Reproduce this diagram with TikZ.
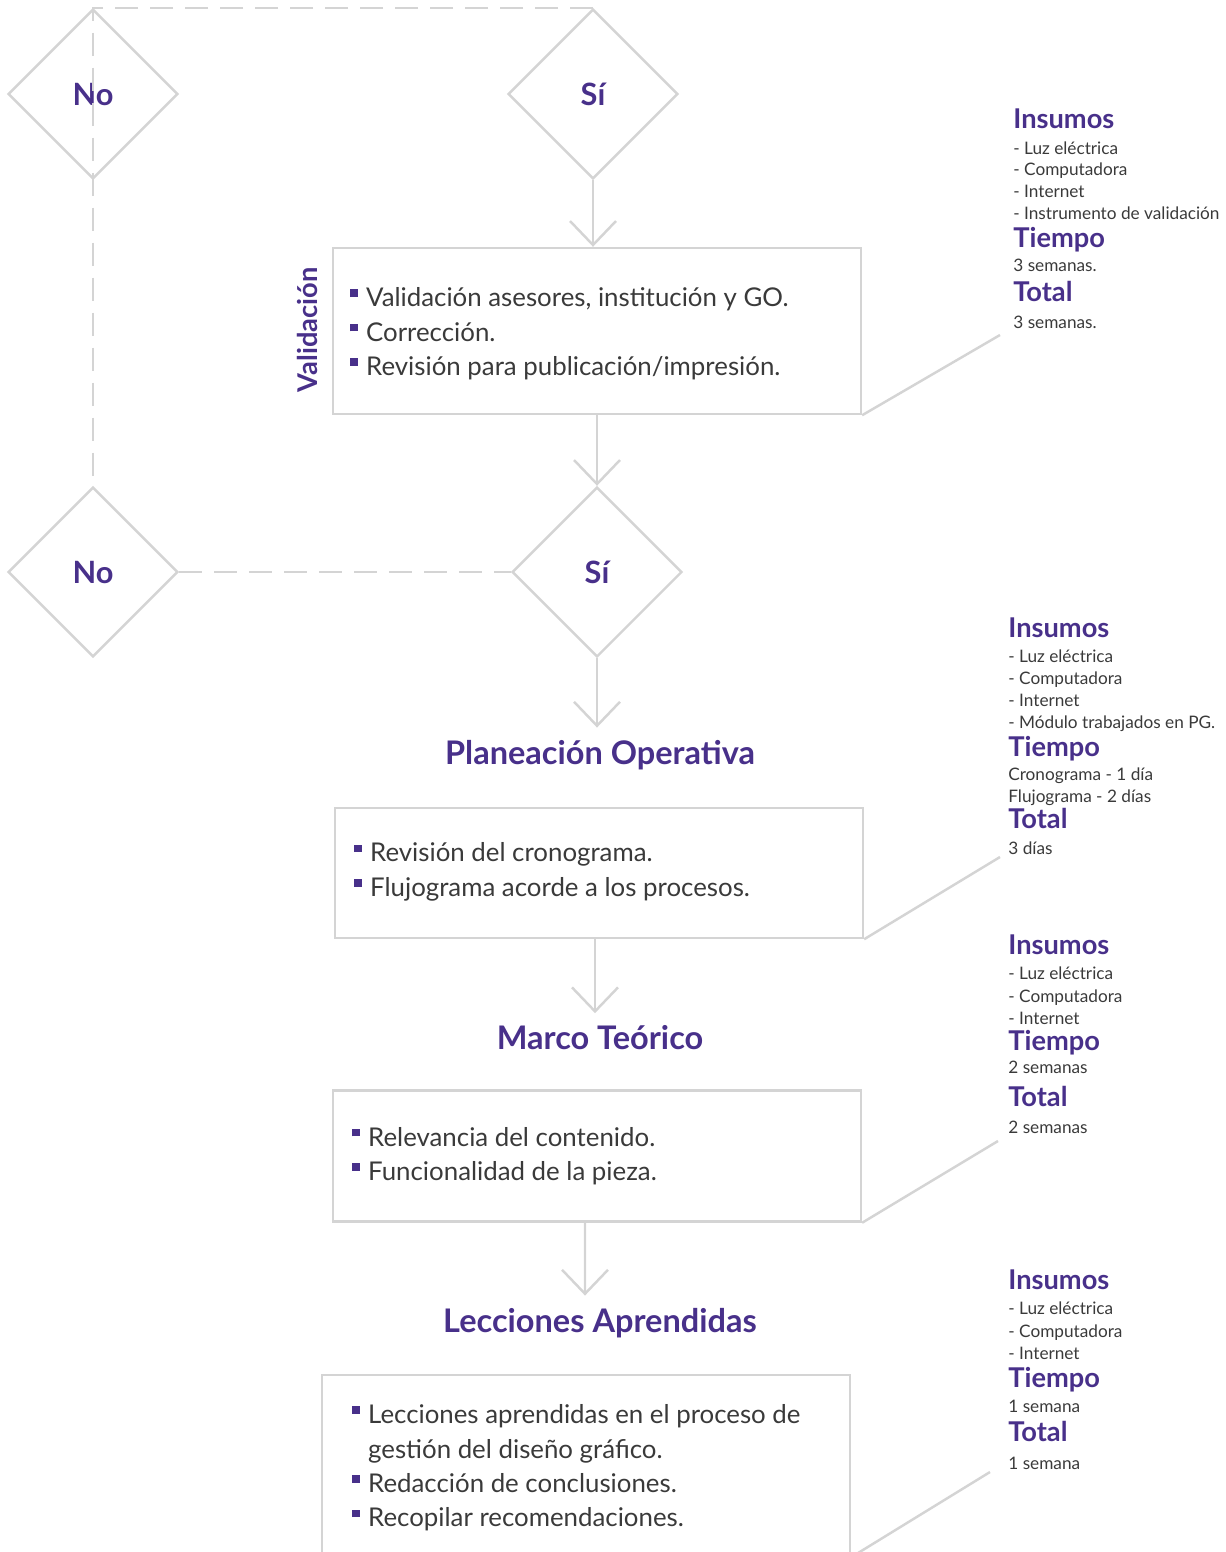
\documentclass[tikz,border=0pt]{standalone}
\usepackage{fontspec}
\setmainfont{Lato}
\usetikzlibrary{shapes.geometric,arrows.meta}
\definecolor{linegray}{HTML}{D4D4D4}
\definecolor{accent}{HTML}{48308A}
\definecolor{bodytext}{HTML}{3A3A3A}
\tikzset{>={Straight Barb[length=4.8mm,width=9.2mm]}}
\newcommand{\bul}{\makebox[9pt][l]{\textcolor{accent}{\rule[0.38em]{4.3pt}{4.3pt}}}}
\newcommand{\nobul}{\makebox[9pt]{}}

\begin{document}
\begin{tikzpicture}[x=0.02cm,y=-0.02cm,
    flow/.style={draw=linegray,line width=1.4pt},
    loopline/.style={flow,dash pattern=on 0.46cm off 0.24cm},
    decision/.style={diamond,draw=linegray,line width=1.4pt,minimum width=3.4cm,minimum height=3.4cm,inner sep=0pt,text=accent,font=\fontsize{17.5}{20}\selectfont\bfseries},
    taskbox/.style={draw=linegray,line width=1.4pt,minimum width=10.56cm,inner sep=0pt},
    tasktext/.style={anchor=west,align=left,text=bodytext,font=\fontsize{14.7}{19.6}\selectfont,inner sep=0pt},
    stage/.style={text=accent,font=\fontsize{18.5}{21}\selectfont\bfseries,inner xsep=0pt,inner ysep=7pt},
    panelhead/.style={anchor=west,text=accent,font=\fontsize{15.5}{17}\selectfont\bfseries,inner sep=0pt,text height=0.72em,text depth=0em,yshift=-0.06cm},
    panelitem/.style={anchor=west,text=bodytext,font=\fontsize{9.8}{11}\selectfont,inner sep=0pt,text height=0.72em,text depth=0em}]
    \clip (0,0) rectangle (1226,1552);
    % decisiones
    \node[decision] (no1) at (93,94) {No};
    \node[decision] (si1) at (593,94) {Sí};
    \node[decision] (no2) at (93,572) {No};
    \node[decision] (si2) at (597,572) {Sí};
    % etapas
    \node[taskbox,minimum height=3.32cm] (val) at (597,331) {};
    \node[rotate=90,text=accent,font=\fontsize{15.5}{17}\selectfont\bfseries] (valtitle) at (307,330) {Validación};
    \node[tasktext] (valtxt) at (350,334) {\bul Validación asesores, institución y GO.\\ \bul Corrección.\\ \bul Revisión para publicación/impresión.};
    \node[stage] (po) at (600,755) {Planeación Operativa};
    \node[taskbox,minimum height=2.6cm] (pobox) at (599,873) {};
    \node[tasktext] (potxt) at (354,872) {\bul Revisión del cronograma.\\ \bul Flujograma acorde a los procesos.};
    \node[stage] (mt) at (600,1038) {Marco Teórico};
    \node[taskbox,minimum height=2.62cm] (mtbox) at (597,1156) {};
    \node[tasktext] (mttxt) at (352,1156) {\bul Relevancia del contenido.\\ \bul Funcionalidad de la pieza.};
    \node[stage] (la) at (600,1323) {Lecciones Aprendidas};
    \node[taskbox,minimum height=3.62cm] (labox) at (586,1465.5) {};
    \node[tasktext] (latxt) at (352,1468) {\bul Lecciones aprendidas en el proceso de\\ \nobul gestión del diseño gráfico.\\ \bul Redacción de conclusiones.\\ \bul Recopilar recomendaciones.};
    % flechas
    \draw[flow,->] (si1.south) -- (si1.south |- val.north);
    \draw[flow,->] (val.south) -- (si2.north);
    \draw[flow,->] (si2.south) -- (si2.south |- po.north);
    \draw[flow,->] ([xshift=-0.08cm]pobox.south) -- ([xshift=-0.08cm]pobox.south |- mt.north);
    \draw[flow,->] ([xshift=-0.24cm]mtbox.south) -- ([xshift=-0.3cm]la.north);
    \draw[loopline] (si1.north) -- (no1.north) -- (no2.north);
    \draw[loopline] (no2.east) -- (si2.west);
    % lineas a los recursos
    \coordinate (r1) at (1000,335);
    \coordinate (r2) at (1000,857);
    \coordinate (r3) at (998,1141);
    \coordinate (r4) at (990,1472);
    \draw[flow] (val.south east) -- (r1);
    \draw[flow] (pobox.south east) -- (r2);
    \draw[flow] (mtbox.south east) -- (r3);
    \draw[flow] (labox.south east) -- (r4);
    % recursos 1
    \node[panelhead] (ins1) at (1013,119) {Insumos};
    \foreach \y/\t [count=\i] in {148/- Luz eléctrica,169/- Computadora,191/- Internet,213/- Instrumento de validación}
        \node[panelitem] (ins1-\i) at (1013,\y) {\t};
    \node[panelhead] (tie1) at (1013,238) {Tiempo};
    \node[panelitem] (tie1-1) at (1013,265) {3 semanas.};
    \node[panelhead] (tot1) at (1013,292) {Total};
    \node[panelitem] (tot1-1) at (1013,322) {3 semanas.};
    % recursos 2
    \node[panelhead] (ins2) at (1008,628) {Insumos};
    \foreach \y/\t [count=\i] in {656/- Luz eléctrica,678/- Computadora,700/- Internet,722/- Módulo trabajados en PG.}
        \node[panelitem] (ins2-\i) at (1008,\y) {\t};
    \node[panelhead] (tie2) at (1008,747) {Tiempo};
    \node[panelitem] (tie2-1) at (1008,774) {Cronograma - 1 día};
    \node[panelitem] (tie2-2) at (1008,796) {Flujograma - 2 días};
    \node[panelhead] (tot2) at (1008,819) {Total};
    \node[panelitem] (tot2-1) at (1008,848) {3 días};
    % recursos 3
    \node[panelhead] (ins3) at (1008,945) {Insumos};
    \foreach \y/\t [count=\i] in {973/- Luz eléctrica,996/- Computadora,1018/- Internet}
        \node[panelitem] (ins3-\i) at (1008,\y) {\t};
    \node[panelhead] (tie3) at (1008,1041) {Tiempo};
    \node[panelitem] (tie3-1) at (1008,1067) {2 semanas};
    \node[panelhead] (tot3) at (1008,1097) {Total};
    \node[panelitem] (tot3-1) at (1008,1127) {2 semanas};
    % recursos 4
    \node[panelhead] (ins4) at (1008,1280) {Insumos};
    \foreach \y/\t [count=\i] in {1308/- Luz eléctrica,1331/- Computadora,1353/- Internet}
        \node[panelitem] (ins4-\i) at (1008,\y) {\t};
    \node[panelhead] (tie4) at (1008,1378) {Tiempo};
    \node[panelitem] (tie4-1) at (1008,1406) {1 semana};
    \node[panelhead] (tot4) at (1008,1432) {Total};
    \node[panelitem] (tot4-1) at (1008,1463) {1 semana};
\end{tikzpicture}
\end{document}
